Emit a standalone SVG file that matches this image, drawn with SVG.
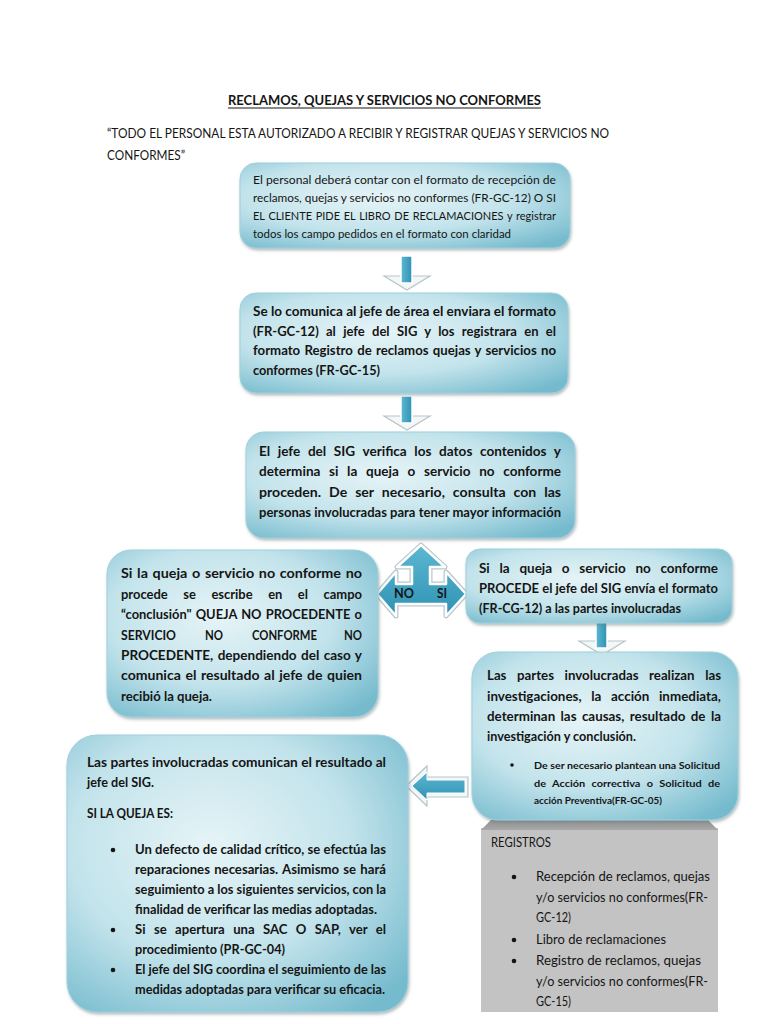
<svg xmlns="http://www.w3.org/2000/svg" xmlns:xlink="http://www.w3.org/1999/xlink" width="768" height="1024" viewBox="0 0 768 1024">
<style>
text{font-family:Lato,"Liberation Sans","DejaVu Sans",sans-serif;fill:#151515}
.b{font-weight:bold;font-size:12.6px}
.r{font-size:12px}
.s{font-weight:bold;font-size:9.2px}
.g{font-size:12.6px}
.box{fill:url(#bg);stroke:#9fd0dc;stroke-width:1;filter:url(#sh)}
.arrowShaft{fill:url(#ab);stroke:#ffffff;stroke-width:1.5}
.arrowHead{fill:#f4f7f8;stroke:#b7c5c9;stroke-width:1.2}
</style>
<defs>
<radialGradient id="bg" cx="42%" cy="40%" r="75%">
<stop offset="0" stop-color="#e6f4f7"/>
<stop offset="0.55" stop-color="#c2e3eb"/>
<stop offset="1" stop-color="#74bacd"/>
</radialGradient>
<linearGradient id="ab" x1="0" y1="0" x2="1" y2="0">
<stop offset="0" stop-color="#5cb8d2"/>
<stop offset="1" stop-color="#2f92b3"/>
</linearGradient>
<linearGradient id="ab2" x1="0" y1="0" x2="0" y2="1">
<stop offset="0" stop-color="#5cb8d2"/>
<stop offset="1" stop-color="#2f92b3"/>
</linearGradient>
<linearGradient id="gb" x1="0" y1="0" x2="0" y2="1">
<stop offset="0" stop-color="#8c8c8c"/>
<stop offset="1" stop-color="#a8a8a8"/>
</linearGradient>
<filter id="sh" x="-10%" y="-10%" width="125%" height="130%">
<feDropShadow dx="1" dy="2" stdDeviation="1.5" flood-color="#6b7d82" flood-opacity="0.5"/>
</filter>
<g id="down">
<polygon class="arrowHead" points="0,20 46,20 23,34"/>
<rect class="arrowShaft" x="17" y="0" width="11" height="27"/>
</g>
</defs>

<rect width="768" height="1024" fill="#ffffff"/>

<g id="title">
<text x="228" y="105" font-size="13.5" font-weight="bold" textLength="313" lengthAdjust="spacingAndGlyphs">RECLAMOS, QUEJAS Y SERVICIOS NO CONFORMES</text>
<line x1="228" y1="108" x2="541" y2="108" stroke="#151515" stroke-width="1"/>
<text x="107" y="138" class="g" textLength="502" lengthAdjust="spacingAndGlyphs">“TODO EL PERSONAL ESTA AUTORIZADO A RECIBIR Y REGISTRAR QUEJAS Y SERVICIOS NO</text>
<text x="107" y="160" class="g" textLength="78" lengthAdjust="spacingAndGlyphs">CONFORMES”</text>
</g>

<g id="connectors">
<use xlink:href="#down" x="384" y="256"/>
<use xlink:href="#down" x="384" y="396"/>
<use xlink:href="#down" x="579" y="621"/>
<path d="M421,545 L445,567 L430,567 L430,584 L446,584 L446,572 L466,594 L446,616 L446,604 L396,604 L396,616 L377,594 L396,572 L396,584 L412,584 L412,567 L397,567 Z" fill="none" stroke="#b9c8cc" stroke-width="5" stroke-linejoin="round"/>
<path d="M421,545 L445,567 L430,567 L430,584 L446,584 L446,572 L466,594 L446,616 L446,604 L396,604 L396,616 L377,594 L396,572 L396,584 L412,584 L412,567 L397,567 Z" fill="url(#ab2)" stroke="#ffffff" stroke-width="2.5" stroke-linejoin="round"/>
<text x="394" y="598" class="b" font-size="11" textLength="20" lengthAdjust="spacingAndGlyphs">NO</text>
<text x="437" y="598" class="b" font-size="11" textLength="10" lengthAdjust="spacingAndGlyphs">SI</text>
<path d="M406,786 L427,766 L427,777 L468,777 L468,797 L427,797 L427,806 Z" fill="#f4f7f8" stroke="#b7c5c9" stroke-width="1.2"/>
<path d="M412,786 L427,772 L427,780 L465,780 L465,793 L427,793 L427,800 Z" fill="url(#ab2)" stroke="#ffffff" stroke-width="1"/>
</g>

<g id="node1">
<rect class="box" x="240" y="163" width="330" height="85" rx="16"/>
<text class="r" x="253" y="184" textLength="303" lengthAdjust="spacingAndGlyphs">El personal deberá contar con el formato de recepción de</text>
<text class="r" x="253" y="202" textLength="303" lengthAdjust="spacingAndGlyphs">reclamos, quejas y servicios no conformes (FR-GC-12) O SI</text>
<text class="r" x="253" y="220" textLength="303" lengthAdjust="spacingAndGlyphs" word-spacing="1">EL CLIENTE PIDE EL LIBRO DE RECLAMACIONES y registrar</text>
<text class="r" x="253" y="238" textLength="258" lengthAdjust="spacingAndGlyphs">todos los campo pedidos en el formato con claridad</text>
</g>

<g id="node2">
<rect class="box" x="240" y="293" width="328" height="100" rx="16"/>
<text class="b" x="253" y="316" textLength="303" lengthAdjust="spacingAndGlyphs">Se lo comunica al jefe de área el enviara el formato</text>
<text class="b" x="253" y="336" textLength="303" lengthAdjust="spacingAndGlyphs" word-spacing="4">(FR-GC-12) al jefe del SIG y los registrara en el</text>
<text class="b" x="253" y="355" textLength="303" lengthAdjust="spacingAndGlyphs" word-spacing="1">formato Registro de reclamos quejas y servicios no</text>
<text class="b" x="253" y="375" textLength="127" lengthAdjust="spacingAndGlyphs">conformes (FR-GC-15)</text>
</g>

<g id="node3">
<rect class="box" x="246" y="432" width="329" height="106" rx="18"/>
<text class="b" x="259" y="456" textLength="302" lengthAdjust="spacingAndGlyphs" word-spacing="4">El jefe del SIG verifica los datos contenidos y</text>
<text class="b" x="259" y="476" textLength="302" lengthAdjust="spacingAndGlyphs" word-spacing="5">determina si la queja o servicio no conforme</text>
<text class="b" x="259" y="497" textLength="302" lengthAdjust="spacingAndGlyphs" word-spacing="4">proceden. De ser necesario, consulta con las</text>
<text class="b" x="259" y="517" textLength="302" lengthAdjust="spacingAndGlyphs">personas involucradas para tener mayor información</text>
</g>

<g id="node4">
<rect class="box" x="107" y="550" width="271" height="167" rx="24"/>
<text class="b" x="121" y="578" textLength="241" lengthAdjust="spacingAndGlyphs" word-spacing="1">Si la queja o servicio  no conforme no</text>
<text class="b" x="121" y="599" textLength="241" lengthAdjust="spacingAndGlyphs" word-spacing="12">procede se escribe en el campo</text>
<text class="b" x="121" y="619" textLength="241" lengthAdjust="spacingAndGlyphs" word-spacing="1">“conclusión" QUEJA NO PROCEDENTE o</text>
<text class="b" x="121" y="640" textLength="55" lengthAdjust="spacingAndGlyphs">SERVICIO</text>
<text class="b" x="205" y="640" textLength="18" lengthAdjust="spacingAndGlyphs">NO</text>
<text class="b" x="252" y="640" textLength="65" lengthAdjust="spacingAndGlyphs">CONFORME</text>
<text class="b" x="344" y="640" textLength="18" lengthAdjust="spacingAndGlyphs">NO</text>
<text class="b" x="121" y="660" textLength="241" lengthAdjust="spacingAndGlyphs" word-spacing="1">PROCEDENTE, dependiendo del caso y</text>
<text class="b" x="121" y="680" textLength="241" lengthAdjust="spacingAndGlyphs" word-spacing="1">comunica el resultado al jefe de quien</text>
<text class="b" x="121" y="701" textLength="91" lengthAdjust="spacingAndGlyphs">recibió la queja.</text>
</g>

<g id="node5">
<rect class="box" x="466" y="549" width="266" height="74" rx="14"/>
<text class="b" x="479" y="573" textLength="239" lengthAdjust="spacingAndGlyphs" word-spacing="6">Si la queja o servicio no conforme</text>
<text class="b" x="479" y="593" textLength="239" lengthAdjust="spacingAndGlyphs">PROCEDE el jefe del SIG envía el formato</text>
<text class="b" x="479" y="613" textLength="202" lengthAdjust="spacingAndGlyphs">(FR-CG-12) a las partes involucradas</text>
</g>

<g id="node7">
<rect x="481" y="828" width="237" height="184" fill="#c3c3c3"/>
<polygon points="481,830 493,818 706,818 718,830" fill="url(#gb)"/>
<text class="g" x="491" y="847" textLength="60" lengthAdjust="spacingAndGlyphs">REGISTROS</text>
<circle cx="514" cy="877" r="2.3" fill="#151515"/>
<text class="g" x="536" y="881" textLength="174" lengthAdjust="spacingAndGlyphs">Recepción de reclamos, quejas</text>
<text class="g" x="536" y="902" textLength="172" lengthAdjust="spacingAndGlyphs">y/o servicios no conformes(FR-</text>
<text class="g" x="536" y="922" textLength="35" lengthAdjust="spacingAndGlyphs">GC-12)</text>
<circle cx="514" cy="940" r="2.3" fill="#151515"/>
<text class="g" x="536" y="944" textLength="130" lengthAdjust="spacingAndGlyphs">Libro de reclamaciones</text>
<circle cx="514" cy="961" r="2.3" fill="#151515"/>
<text class="g" x="536" y="965" textLength="165" lengthAdjust="spacingAndGlyphs">Registro de reclamos, quejas</text>
<text class="g" x="536" y="986" textLength="172" lengthAdjust="spacingAndGlyphs">y/o servicios no conformes(FR-</text>
<text class="g" x="536" y="1006" textLength="35" lengthAdjust="spacingAndGlyphs">GC-15)</text>
</g>

<g id="node6">
<rect class="box" x="472" y="652" width="266" height="168" rx="26"/>
<text class="b" x="487" y="680" textLength="234" lengthAdjust="spacingAndGlyphs" word-spacing="7">Las partes involucradas realizan las</text>
<text class="b" x="487" y="701" textLength="234" lengthAdjust="spacingAndGlyphs" word-spacing="6">investigaciones, la acción inmediata,</text>
<text class="b" x="487" y="721" textLength="234" lengthAdjust="spacingAndGlyphs" word-spacing="2">determinan las causas, resultado de la</text>
<text class="b" x="487" y="741" textLength="149" lengthAdjust="spacingAndGlyphs">investigación y conclusión.</text>
<circle cx="512" cy="765" r="1.8" fill="#151515"/>
<text class="s" x="534" y="769" textLength="186" lengthAdjust="spacingAndGlyphs">De ser necesario plantean una Solicitud</text>
<text class="s" x="534" y="787" textLength="186" lengthAdjust="spacingAndGlyphs" word-spacing="3">de Acción correctiva o Solicitud de</text>
<text class="s" x="534" y="804" textLength="128" lengthAdjust="spacingAndGlyphs">acción Preventiva(FR-GC-05)</text>
</g>

<g id="node8">
<rect class="box" x="67" y="735" width="341" height="277" rx="30"/>
<text class="b" x="87" y="767" textLength="299" lengthAdjust="spacingAndGlyphs">Las  partes involucradas comunican el resultado al</text>
<text class="b" x="87" y="787" textLength="67" lengthAdjust="spacingAndGlyphs">jefe del SIG.</text>
<text class="b" x="87" y="818" textLength="86" lengthAdjust="spacingAndGlyphs">SI LA QUEJA ES:</text>
<circle cx="113" cy="850" r="2.3" fill="#151515"/>
<text class="b" x="135" y="854" textLength="251" lengthAdjust="spacingAndGlyphs">Un defecto de calidad crítico, se efectúa las</text>
<text class="b" x="135" y="874" textLength="251" lengthAdjust="spacingAndGlyphs" word-spacing="1">reparaciones necesarias. Asimismo se hará</text>
<text class="b" x="135" y="894" textLength="251" lengthAdjust="spacingAndGlyphs">seguimiento a los siguientes servicios, con la</text>
<text class="b" x="135" y="914" textLength="242" lengthAdjust="spacingAndGlyphs">finalidad de verificar las medias adoptadas.</text>
<circle cx="113" cy="930" r="2.3" fill="#151515"/>
<text class="b" x="135" y="934" textLength="251" lengthAdjust="spacingAndGlyphs" word-spacing="5">Si se apertura una SAC O SAP, ver el</text>
<text class="b" x="135" y="954" textLength="150" lengthAdjust="spacingAndGlyphs">procedimiento (PR-GC-04)</text>
<circle cx="113" cy="970" r="2.3" fill="#151515"/>
<text class="b" x="135" y="974" textLength="251" lengthAdjust="spacingAndGlyphs">El jefe del SIG coordina el seguimiento de las</text>
<text class="b" x="135" y="994" textLength="250" lengthAdjust="spacingAndGlyphs">medidas adoptadas para verificar su eficacia.</text>
</g>
</svg>
